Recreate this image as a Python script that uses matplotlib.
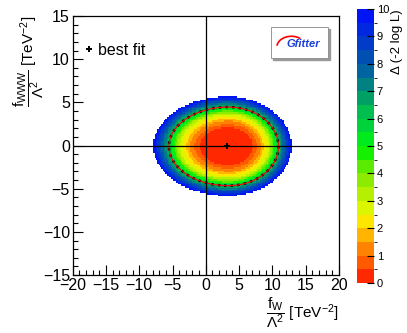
import numpy as np
import matplotlib.pyplot as plt
from matplotlib.colors import ListedColormap, BoundaryNorm
from matplotlib.patches import Rectangle, Arc

plt.rcParams['font.family'] = ['Liberation Sans', 'DejaVu Sans']
plt.rcParams['mathtext.fontset'] = 'custom'
plt.rcParams['mathtext.rm'] = 'Liberation Sans'
plt.rcParams['mathtext.it'] = 'Liberation Sans:italic'
plt.rcParams['mathtext.default'] = 'rm'

# fit result
best_fit = [3.2, -0.1]
surface_center = [3.4, -0.1]
# semi-axes of the Delta = 10 edge: left, right, down, up
edge_axes = [11.3, 9.5, 5.75, 5.75]
# Delta profile along the scaled radius (1 = Delta 10 edge)
profile_rho = [0.0, 0.38, 0.5, 0.66, 0.79, 1.0]
profile_delta = [0.0, 0.5, 1.4, 3.2, 6.18, 10.0]
contour_level = 6.18
levels = np.arange(0, 10.5, 0.5)
cbar_ticks = list(range(0, 11))
x_ticks = [-20, -15, -10, -5, 0, 5, 10, 15, 20]
y_ticks = [-15, -10, -5, 0, 5, 10, 15]

colors = ['#ff2800', '#ff5a00', '#ff8200', '#ffb400', '#ffe600',
          '#dcf500', '#b4f000', '#8ceb00', '#5aeb00', '#14f000',
          '#00eb1e', '#00d23c', '#00be50', '#00a064', '#008282',
          '#0064a0', '#0050b4', '#003cc8', '#0028e1', '#0014f5']
cmap = ListedColormap(colors)
norm = BoundaryNorm(levels, cmap.N)

gx = np.arange(-20, 20.01, 0.2)
gy = np.arange(-15, 15.01, 0.2)
X, Y = np.meshgrid(gx, gy)
dx = X - surface_center[0]
dy = Y - surface_center[1]
ax_x = np.where(dx < 0, edge_axes[0], edge_axes[1])
ax_y = np.where(dy < 0, edge_axes[2], edge_axes[3])
rho = np.sqrt((dx / ax_x)**2 + (dy / ax_y)**2)
delta = np.interp(rho, profile_rho, profile_delta, right=99)
delta_m = np.ma.masked_greater(delta, 10.0)

fig = plt.figure(figsize=(4.07, 3.33), dpi=100)
ax = fig.add_axes([0.1786, 0.174, 0.654, 0.778])
ax.pcolormesh(X, Y, delta_m, cmap=cmap, norm=norm, shading='nearest')
ax.contour(X, Y, delta, levels=[contour_level], colors='black', linewidths=1.8, linestyles=':')
ax.contour(X, Y, delta, levels=[contour_level], colors='red', linewidths=0.8)
ax.axvline(0, color='black', lw=0.9)
ax.axhline(0, color='black', lw=0.9)
ax.plot(best_fit[0], best_fit[1], marker='P', color='black', ms=4, mew=0)

ax.set_xlim(-20, 20)
ax.set_ylim(-15, 15)
ax.set_xticks(x_ticks)
ax.set_yticks(y_ticks)
ax.set_xticks(np.arange(-20, 21, 1), minor=True)
ax.set_yticks(np.arange(-15, 16, 1), minor=True)
ax.tick_params(direction='in', length=7, width=0.8, labelsize=11.5, pad=2)
ax.tick_params(which='minor', direction='in', length=3.5, width=0.8)
for s in ax.spines.values():
    s.set_linewidth(0.9)

ax.set_xlabel(r'$\dfrac{f_W}{\Lambda^2}$ [TeV$^{-2}$]', fontsize=11, loc='right', labelpad=2)
ax.set_ylabel(r'$\dfrac{f_{WWW}}{\Lambda^2}$ [TeV$^{-2}$]', fontsize=11, loc='top', labelpad=-2)

ax.plot([], [], marker='P', color='black', ms=4, mew=0, ls='none', label='best fit')
ax.legend(loc='upper left', bbox_to_anchor=(0.0, 0.94), frameon=False, fontsize=11.5,
          handlelength=0.6, handletextpad=0.3, borderaxespad=0.3)

# logo box
lax = fig.add_axes([0.666, 0.826, 0.1425, 0.093])
lax.set_xlim(0, 1)
lax.set_ylim(0, 1)
lax.axis('off')
lax.add_patch(Rectangle((0.04, -0.08), 0.98, 1.0, color='#999999', clip_on=False))
lax.add_patch(Rectangle((0, 0), 0.98, 1.0, facecolor='white', edgecolor='#888888', lw=0.6, clip_on=False))
lax.add_patch(Arc((0.35, 0.35), 0.5, 0.7, theta1=60, theta2=170, color='red', lw=1.2))
lax.text(0.55, 0.45, 'Gfitter', color='#1a3cd6', fontsize=8, fontweight='bold',
         style='italic', ha='center', va='center')

# colour bar
cax = fig.add_axes([0.877, 0.15, 0.042, 0.823])
cb = fig.colorbar(plt.cm.ScalarMappable(norm=norm, cmap=cmap), cax=cax, ticks=cbar_ticks)
cb.outline.set_visible(False)
cax.tick_params(direction='in', length=5, width=0.8, labelsize=8, pad=2)
cb.set_label('Δ (-2 log L)', fontsize=9.5, loc='top', labelpad=1)

fig.savefig('out.png', dpi=100)
